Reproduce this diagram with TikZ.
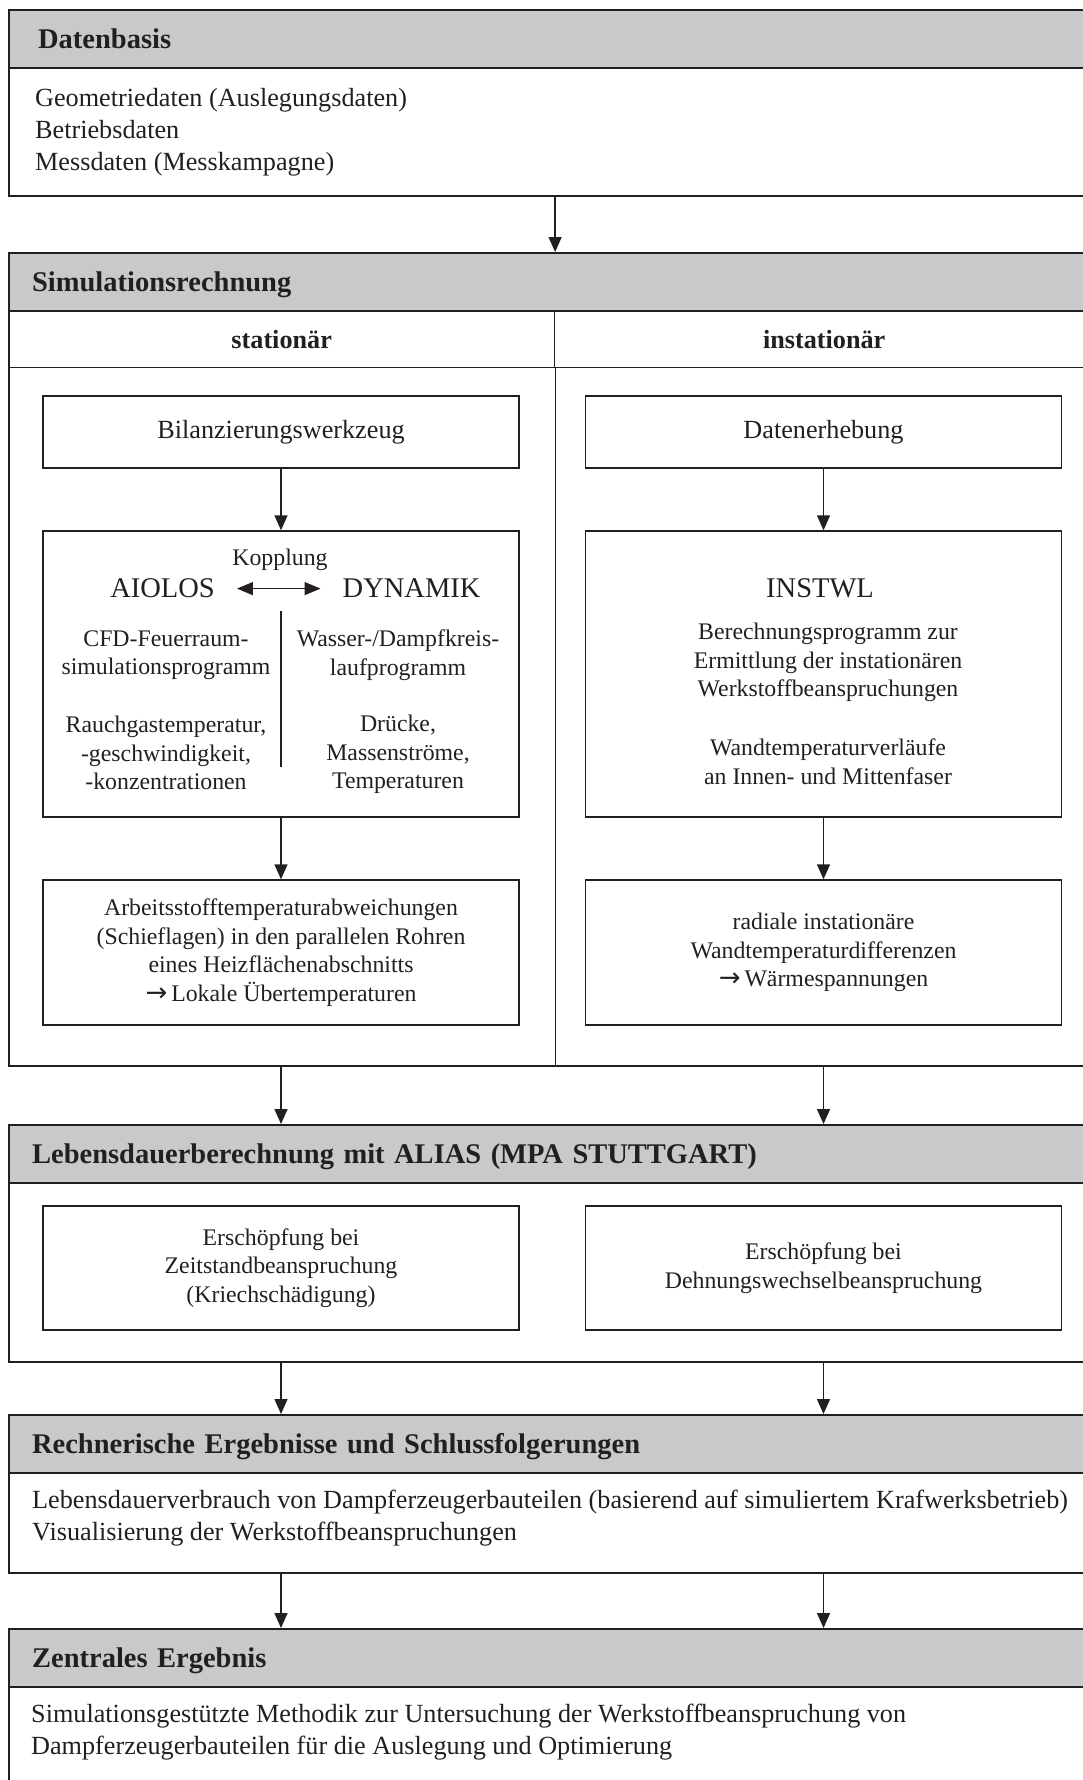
\documentclass[tikz,border=0pt]{standalone}
\usepackage{fontspec}
\setmainfont{Liberation Serif}
\newfontfamily\symfam{DejaVu Sans}
\usepackage{tikz}
\usetikzlibrary{arrows.meta}
\definecolor{headgray}{RGB}{200, 201, 203}
\definecolor{framegray}{RGB}{35, 31, 32}

\newcommand{\txtbody}{\fontsize{26.2}{32}\selectfont}
\newcommand{\txtbox}{\fontsize{23.8}{28.5}\selectfont}
\newcommand{\txthead}{\fontsize{28.5}{34}\selectfont\bfseries}
\newcommand{\txtsub}{\fontsize{26.2}{32}\selectfont\bfseries}
\newcommand{\txtprog}{\fontsize{28.5}{34}\selectfont}
\newcommand{\toarrow}{{\symfam\fontsize{26}{28.5}\selectfont →}\,}

\begin{document}
\begin{tikzpicture}[
    x=1pt, y=-1pt, color=framegray,
    panel/.style={draw, line width=2.2pt, minimum width=1092pt,
                  anchor=north west, inner sep=0pt},
    head/.style={panel, fill=headgray, minimum height=57.5pt, text width=1046pt,
                 inner xsep=23pt, align=left, font=\txthead,
                 text height=20pt, text depth=0pt},
    colhead/.style={draw, line width=1.4pt, minimum height=57pt,
                    anchor=north west, font=\txtsub},
    proc/.style={draw, line width=1.4pt, minimum width=476pt, align=center,
                 font=\txtbox},
    prog/.style={font=\txtprog, inner sep=0pt},
    col/.style={align=center, font=\txtbox, inner sep=0pt},
    body/.style={anchor=west, align=left, font=\txtbody, inner sep=0pt},
    arrow/.style={-{Triangle[length=15pt, width=13pt]}, line width=1.4pt},
    link/.style={{Triangle[length=16pt, width=13pt]}-{Triangle[length=16pt, width=13pt]},
                 line width=1.4pt, shorten <=22pt, shorten >=22pt}
]
    \useasboundingbox (0,0) rectangle (1083,1780);
    \clip (0,0) rectangle (1083,1780);

    % Datenbasis
    \node[panel, minimum height=186pt] (daten) at (8,9) {};
    \node[head, inner xsep=29pt, text width=1034pt] (datenhead) at (8,9) {Datenbasis};
    \node[body] (datentext) at (35,131.8) {Geometriedaten (Auslegungsdaten)\\Betriebsdaten\\Messdaten (Messkampagne)};

    % Simulationsrechnung
    \node[panel, minimum height=813pt] (sim) at (8,252) {};
    \node[head] (simhead) at (8,252) {Simulationsrechnung};
    \node[colhead, minimum width=546pt] (stat) at (8,310) {stationär};
    \node[colhead, minimum width=539pt] (instat) at (554,310) {instationär};
    \draw[line width=1.4pt] (stat.south east) -- (stat.south east |- sim.south);

    % stationaer
    \node[proc, font=\txtbody, minimum height=72pt] (bilanz) at (281,432) {Bilanzierungswerkzeug};
    \node[proc, minimum height=286pt] (solver) at (281,674) {};
    \node[col] (kopplung) at (280,559.5) {Kopplung};
    \node[prog] (aiolos) at (162.5,588.6) {AIOLOS};
    \node[prog] (dynamik) at (411.6,588.6) {DYNAMIK};
    \draw[link] (aiolos) -- (dynamik);
    \draw[line width=1.4pt] ([yshift=-81pt]solver.north) -- ([yshift=-237pt]solver.north);
    \node[col] (cfd) at (166,655) {CFD-Feuerraum-\\simulationsprogramm};
    \node[col] (rauchgas) at (166,752.9) {Rauchgastemperatur,\\-geschwindigkeit,\\-konzentrationen};
    \node[col] (wasser) at (398,655) {Wasser-/Dampfkreis-\\laufprogramm};
    \node[col] (druecke) at (398,754.5) {Drücke,\\Massenströme,\\Temperaturen};
    \node[proc, minimum height=145pt] (lres) at (281,952.5) {Arbeitsstofftemperaturabweichungen\\(Schieflagen) in den parallelen Rohren\\eines Heizflächenabschnitts\\\toarrow Lokale Übertemperaturen};

    % instationaer
    \node[proc, font=\txtbody, minimum height=72pt] (erhebung) at (823.5,432) {Datenerhebung};
    \node[proc, minimum height=286pt] (instwlbox) at (823.5,674) {};
    \node[prog] (instwl) at (820,588.6) {INSTWL};
    \node[col] (berechnung) at (828,662.8) {Berechnungsprogramm zur\\Ermittlung der instationären\\Werkstoffbeanspruchungen};
    \node[col] (wandtemp) at (828,761.7) {Wandtemperaturverläufe\\an Innen- und Mittenfaser};
    \node[proc, minimum height=145pt] (rres) at (823.5,952.5) {radiale instationäre\\Wandtemperaturdifferenzen\\\toarrow Wärmespannungen};

    % Lebensdauerberechnung
    \node[panel, minimum height=237pt] (leben) at (8,1124) {};
    \node[head] (lebenhead) at (8,1124) {Lebensdauerberechnung mit ALIAS (MPA STUTTGART)};
    \node[proc, minimum height=124pt] (kriech) at (281,1268) {Erschöpfung bei\\Zeitstandbeanspruchung\\(Kriechschädigung)};
    \node[proc, minimum height=124pt] (dehnung) at (823.5,1268) {Erschöpfung bei\\Dehnungswechselbeanspruchung};

    % Ergebnisse
    \node[panel, minimum height=158pt] (rech) at (8,1414) {};
    \node[head] (rechhead) at (8,1414) {Rechnerische Ergebnisse und Schlussfolgerungen};
    \node[body] (rechtext) at (32,1517.7) {Lebensdauerverbrauch von Dampferzeugerbauteilen (basierend auf simuliertem Krafwerksbetrieb)\\Visualisierung der Werkstoffbeanspruchungen};

    \node[panel, minimum height=220pt] (zentral) at (8,1628) {};
    \node[head] (zentralhead) at (8,1628) {Zentrales Ergebnis};
    \node[body] (zentraltext) at (31,1731.8) {Simulationsgestützte Methodik zur Untersuchung der Werkstoffbeanspruchung von\\Dampferzeugerbauteilen für die Auslegung und Optimierung};

    % Flow
    \draw[arrow] (daten) -- (sim);
    \draw[arrow] (bilanz) -- (solver);
    \draw[arrow] (solver) -- (lres);
    \draw[arrow] (erhebung) -- (instwlbox);
    \draw[arrow] (instwlbox) -- (rres);
    \draw[arrow] (lres |- sim.south) -- (lres |- leben.north);
    \draw[arrow] (rres |- sim.south) -- (rres |- leben.north);
    \draw[arrow] (kriech |- leben.south) -- (kriech |- rech.north);
    \draw[arrow] (dehnung |- leben.south) -- (dehnung |- rech.north);
    \draw[arrow] (kriech |- rech.south) -- (kriech |- zentral.north);
    \draw[arrow] (dehnung |- rech.south) -- (dehnung |- zentral.north);
\end{tikzpicture}
\end{document}
